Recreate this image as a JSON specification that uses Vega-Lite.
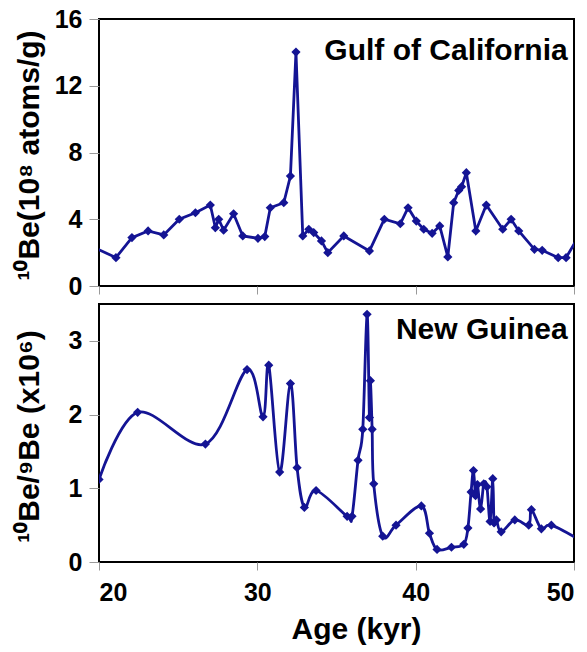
{
  "$schema": "https://vega.github.io/schema/vega-lite/v6.json",
  "background": "white",
  "padding": {"left": 12, "top": 6, "right": 10, "bottom": 5},
  "bounds": "flush",
  "spacing": 18,
  "config": {
    "view": {"stroke": "black", "strokeWidth": 2},
    "font": "Liberation Sans",
    "axis": {
      "grid": false,
      "domain": false,
      "tickColor": "#999999",
      "tickSize": 10,
      "labelFont": "Liberation Sans",
      "labelFontWeight": "bold",
      "labelFontSize": 25,
      "labelColor": "black",
      "titleFont": "Liberation Sans",
      "titleFontWeight": "bold",
      "titleColor": "black"
    }
  },
  "datasets": {
    "gulf": [
      {"age": 19.6, "be": 2.35},
      {"age": 21.07, "be": 1.7},
      {"age": 22.08, "be": 2.9},
      {"age": 23.1, "be": 3.3},
      {"age": 24.09, "be": 3.06},
      {"age": 25.07, "be": 4.0},
      {"age": 26.09, "be": 4.39},
      {"age": 27.03, "be": 4.85},
      {"age": 27.35, "be": 3.49},
      {"age": 27.56, "be": 4.0},
      {"age": 27.87, "be": 3.34},
      {"age": 28.5, "be": 4.33},
      {"age": 29.08, "be": 3.0},
      {"age": 30.04, "be": 2.86},
      {"age": 30.47, "be": 2.96},
      {"age": 30.82, "be": 4.69},
      {"age": 31.67, "be": 4.99},
      {"age": 32.09, "be": 6.59},
      {"age": 32.44, "be": 14.02},
      {"age": 32.87, "be": 3.0},
      {"age": 33.25, "be": 3.4},
      {"age": 33.56, "be": 3.2},
      {"age": 34.05, "be": 2.7},
      {"age": 34.45, "be": 2.0},
      {"age": 35.46, "be": 3.0},
      {"age": 37.08, "be": 2.1},
      {"age": 38.02, "be": 4.0},
      {"age": 39.03, "be": 3.73},
      {"age": 39.52, "be": 4.69},
      {"age": 40.04, "be": 3.89},
      {"age": 40.51, "be": 3.4},
      {"age": 41.04, "be": 3.16},
      {"age": 41.52, "be": 3.6},
      {"age": 42.03, "be": 1.74},
      {"age": 42.4, "be": 4.99},
      {"age": 42.72, "be": 5.73},
      {"age": 42.9, "be": 5.95},
      {"age": 43.2, "be": 6.79},
      {"age": 43.8, "be": 3.3},
      {"age": 44.46, "be": 4.85},
      {"age": 45.5, "be": 3.4},
      {"age": 46.03, "be": 4.0},
      {"age": 46.51, "be": 3.3},
      {"age": 47.5, "be": 2.2},
      {"age": 47.99, "be": 2.14},
      {"age": 49.0, "be": 1.7},
      {"age": 49.5, "be": 1.7},
      {"age": 50.3, "be": 2.98}
    ],
    "guinea": [
      {"age": 20.0, "ratio": 1.12},
      {"age": 22.44, "ratio": 2.03},
      {"age": 26.72, "ratio": 1.6},
      {"age": 29.35, "ratio": 2.61},
      {"age": 30.36, "ratio": 1.97},
      {"age": 30.72, "ratio": 2.67},
      {"age": 31.41, "ratio": 1.22},
      {"age": 32.09, "ratio": 2.42},
      {"age": 32.51, "ratio": 1.28},
      {"age": 32.97, "ratio": 0.74},
      {"age": 33.71, "ratio": 0.97},
      {"age": 35.67, "ratio": 0.62},
      {"age": 35.98, "ratio": 0.62},
      {"age": 36.36, "ratio": 1.38},
      {"age": 36.66, "ratio": 1.8},
      {"age": 36.93, "ratio": 3.36},
      {"age": 37.08, "ratio": 1.96},
      {"age": 37.14, "ratio": 2.46},
      {"age": 37.25, "ratio": 1.8},
      {"age": 37.35, "ratio": 1.06},
      {"age": 37.92, "ratio": 0.35},
      {"age": 38.76, "ratio": 0.5},
      {"age": 40.36, "ratio": 0.76},
      {"age": 40.87, "ratio": 0.39},
      {"age": 41.35, "ratio": 0.17},
      {"age": 42.26, "ratio": 0.2},
      {"age": 43.04, "ratio": 0.24},
      {"age": 43.3, "ratio": 0.46},
      {"age": 43.5, "ratio": 0.95},
      {"age": 43.65, "ratio": 1.24},
      {"age": 43.78, "ratio": 0.9},
      {"age": 43.9, "ratio": 1.05},
      {"age": 44.1, "ratio": 0.72},
      {"age": 44.3, "ratio": 1.06},
      {"age": 44.5, "ratio": 1.02},
      {"age": 44.7, "ratio": 0.55},
      {"age": 44.87, "ratio": 1.13},
      {"age": 44.95, "ratio": 0.53},
      {"age": 45.1, "ratio": 0.57},
      {"age": 45.4, "ratio": 0.41},
      {"age": 46.26, "ratio": 0.57},
      {"age": 47.14, "ratio": 0.5},
      {"age": 47.31, "ratio": 0.71},
      {"age": 47.94, "ratio": 0.45},
      {"age": 48.57, "ratio": 0.5},
      {"age": 50.5, "ratio": 0.28}
    ],
    "sites": [
      {"site": "Gulf of California", "age": 49.6, "be": 14.1},
      {"site": "New Guinea", "age": 49.6, "ratio": 3.15}
    ]
  },
  "vconcat": [
    {
      "width": 475,
      "height": 267,
      "layer": [
        {
          "data": {"name": "gulf"},
          "mark": {"type": "line", "clip": true, "color": "#141494", "strokeWidth": 2.8},
          "encoding": {
            "x": {
              "field": "age",
              "type": "quantitative",
              "scale": {"domain": [20, 50], "nice": false, "zero": false},
              "axis": {"labels": false, "title": null, "values": [20, 30, 40, 50], "tickSize": 8}
            },
            "y": {
              "field": "be",
              "type": "quantitative",
              "scale": {"domain": [0, 16], "nice": false},
              "axis": {
                "values": [0, 4, 8, 12, 16],
                "format": "d",
                "labelPadding": 7,
                "title": "¹⁰Be(10⁸ atoms/g)",
                "titleFontSize": 30,
                "titleX": -55,
                "titleY": 136
              }
            }
          }
        },
        {
          "data": {"name": "gulf"},
          "mark": {"type": "point", "shape": "diamond", "filled": true, "clip": true, "size": 85, "color": "#141494", "opacity": 1},
          "encoding": {
            "x": {"field": "age", "type": "quantitative"},
            "y": {"field": "be", "type": "quantitative"}
          }
        },
        {
          "data": {"name": "sites"},
          "transform": [{"filter": "datum.site === 'Gulf of California'"}],
          "mark": {"type": "text", "align": "right", "baseline": "middle", "fontSize": 30, "fontWeight": "bold", "fill": "black"},
          "encoding": {
            "text": {"field": "site", "type": "nominal"},
            "x": {"field": "age", "type": "quantitative"},
            "y": {"field": "be", "type": "quantitative"}
          }
        }
      ]
    },
    {
      "width": 475,
      "height": 258,
      "layer": [
        {
          "data": {"name": "guinea"},
          "mark": {"type": "line", "clip": true, "interpolate": "cardinal", "color": "#141494", "strokeWidth": 2.8},
          "encoding": {
            "x": {
              "field": "age",
              "type": "quantitative",
              "scale": {"domain": [20, 50], "nice": false, "zero": false},
              "axis": {
                "values": [20, 30, 40, 50],
                "format": "d",
                "tickSize": 8,
                "labelPadding": 10,
                "title": "Age (kyr)",
                "titleFontSize": 30,
                "titleX": 257,
                "titlePadding": 9
              }
            },
            "y": {
              "field": "ratio",
              "type": "quantitative",
              "scale": {"domain": [0, 3.5], "nice": false},
              "axis": {
                "values": [0, 1, 2, 3],
                "format": "d",
                "labelPadding": 7,
                "title": "¹⁰Be/⁹Be (x10⁶)",
                "titleFontSize": 30,
                "titleX": -55,
                "titleY": 132
              }
            }
          }
        },
        {
          "data": {"name": "guinea"},
          "mark": {"type": "point", "shape": "diamond", "filled": true, "clip": true, "size": 85, "color": "#141494", "opacity": 1},
          "encoding": {
            "x": {"field": "age", "type": "quantitative"},
            "y": {"field": "ratio", "type": "quantitative"}
          }
        },
        {
          "data": {"name": "sites"},
          "transform": [{"filter": "datum.site === 'New Guinea'"}],
          "mark": {"type": "text", "align": "right", "baseline": "middle", "fontSize": 30, "fontWeight": "bold", "fill": "black"},
          "encoding": {
            "text": {"field": "site", "type": "nominal"},
            "x": {"field": "age", "type": "quantitative"},
            "y": {"field": "ratio", "type": "quantitative"}
          }
        }
      ]
    }
  ]
}
